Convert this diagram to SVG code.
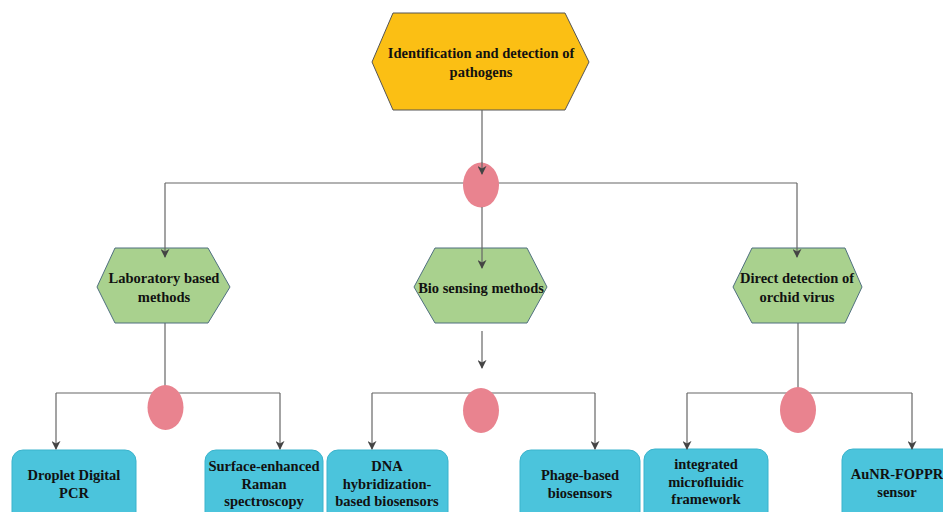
<svg xmlns="http://www.w3.org/2000/svg" width="943" height="512" viewBox="0 0 943 512">
<defs>
<marker id="arr" viewBox="0 0 10 10" refX="9" refY="5" markerWidth="9" markerHeight="9" markerUnits="userSpaceOnUse" orient="auto">
<path d="M0,0 L10,5 L0,10 L3,5 z" fill="#444"/>
</marker>
<style>
text{font-family:"Liberation Serif","Times New Roman",serif;font-weight:bold;font-size:14.5px;fill:#111;text-anchor:middle}
.hexy{fill:#FBBF14;stroke:#555;stroke-width:1}
.hexg{fill:#A9D18E;stroke:#4F6F7F;stroke-width:1}
.ell{fill:#E9838F}
.box{fill:#4BC4DC;stroke:#3AB3CC;stroke-width:1}
.ln{fill:none;stroke:#666;stroke-width:1.2}
.la{fill:none;stroke:#666;stroke-width:1.2;marker-end:url(#arr)}
</style>
</defs>
<rect width="943" height="512" fill="#fff"/>
<g id="connectors-under">
<path class="ln" d="M165,183 H797"/>
<path class="ln" d="M165,323 V393"/>
<path class="ln" d="M56,393 H280"/>
<path class="ln" d="M372,393 H595"/>
<path class="ln" d="M798,323 V393"/>
<path class="ln" d="M687,393 H912"/>
</g>
<g id="ellipse-top"><ellipse class="ell" cx="481" cy="185" rx="18" ry="22.5"/></g>
<g id="ellipse-left"><ellipse class="ell" cx="165.5" cy="407.5" rx="18" ry="22.5"/></g>
<g id="ellipse-mid"><ellipse class="ell" cx="481" cy="410.5" rx="18" ry="22.5"/></g>
<g id="ellipse-right"><ellipse class="ell" cx="798" cy="410" rx="18" ry="23"/></g>
<g id="root">
<polygon class="hexy" points="393,13 565,13 589,62 565,110 393,110 372,62"/>
<text x="481" y="58">Identification and detection of</text>
<text x="481" y="77">pathogens</text>
</g>
<g id="lab">
<polygon class="hexg" points="115,248 208,248 230,287 208,323 115,323 97,287"/>
<text x="164" y="283">Laboratory based</text>
<text x="164" y="302">methods</text>
</g>
<g id="bio">
<polygon class="hexg" points="435,248 527,248 547,287 527,323 435,323 414,287"/>
<text x="481" y="293">Bio sensing methods</text>
</g>
<g id="direct">
<polygon class="hexg" points="752,248 845,248 862,287 845,323 752,323 733,287"/>
<text x="797" y="283">Direct detection of</text>
<text x="797" y="302">orchid virus</text>
</g>
<g id="ddpcr">
<rect class="box" x="12" y="450" width="124" height="75" rx="11"/>
<text x="74" y="480">Droplet Digital</text>
<text x="74" y="498">PCR</text>
</g>
<g id="sers">
<rect class="box" x="205" y="450" width="118" height="75" rx="11"/>
<text x="264" y="471">Surface-enhanced</text>
<text x="264" y="489">Raman</text>
<text x="264" y="506">spectroscopy</text>
</g>
<g id="dna">
<rect class="box" x="327" y="450" width="121" height="75" rx="11"/>
<text x="387" y="471">DNA</text>
<text x="387" y="489">hybridization-</text>
<text x="387" y="506">based biosensors</text>
</g>
<g id="phage">
<rect class="box" x="520" y="450" width="120" height="75" rx="11"/>
<text x="580" y="480">Phage-based</text>
<text x="580" y="498">biosensors</text>
</g>
<g id="microfluidic">
<rect class="box" x="644" y="449" width="124" height="76" rx="11"/>
<text x="706" y="469">integrated</text>
<text x="706" y="487">microfluidic</text>
<text x="706" y="504">framework</text>
</g>
<g id="aunr">
<rect class="box" x="842" y="449" width="115" height="76" rx="11"/>
<text x="897" y="479">AuNR-FOPPR</text>
<text x="897" y="497">sensor</text>
</g>
<g id="connectors">
<path class="ln" d="M482,110 V162.5"/>
<path class="la" d="M482,162 V174"/>
<path class="la" d="M165,183 V257"/>
<path class="la" d="M482,207 V268"/>
<path class="la" d="M797,183 V257"/>
<path class="la" d="M482,331 V368"/>
<path class="la" d="M56,393 V449"/>
<path class="la" d="M280,393 V449"/>
<path class="la" d="M372,393 V449"/>
<path class="la" d="M595,393 V449"/>
<path class="la" d="M687,393 V449"/>
<path class="la" d="M912,393 V449"/>
</g>
</svg>
